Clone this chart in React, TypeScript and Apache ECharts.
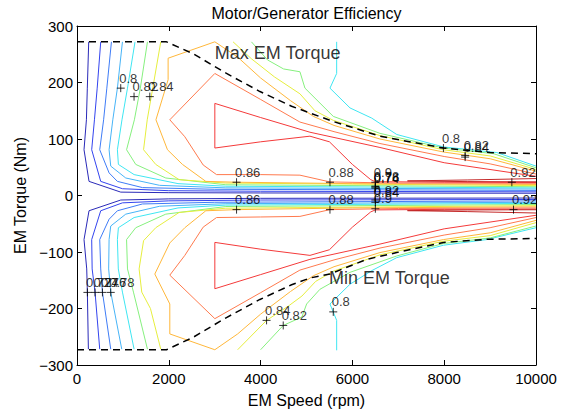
import React, { useEffect, useRef } from 'react';
import * as echarts from 'echarts';

// ---- axis ticks ----
const speedTicks = [0, 2000, 4000, 6000, 8000, 10000];
const torqueTicks = [-300, -200, -100, 0, 100, 200, 300];

// ---- contour levels ----
const levels = [0.72, 0.74, 0.76, 0.78, 0.8, 0.82, 0.84, 0.86, 0.88, 0.9, 0.92];

// ---- contour lines: [speed rpm, torque Nm] ----
const c72U = [[255, 272], [225, 190], [205, 134], [153, 81], [262, 25], [953, 6], [2000, 5], [4000, 4.5], [10000, 4]];
const c72L = [[248, -272], [226, -171], [212, -130], [153, -78], [262, -27], [953, -8], [2000, -6], [4000, -5], [10000, -4.5]];
const c74U = [[517, 272], [440, 190], [380, 134], [320, 81], [517, 25], [990, 12], [2000, 8.5], [4000, 7.5], [10000, 6.5]];
const c74L = [[495, -272], [393, -171], [330, -130], [320, -78], [517, -27], [990, -13], [2000, -9.5], [4000, -8], [10000, -7]];
const c76U = [[750, 272], [650, 190], [580, 134], [495, 81], [699, 40], [880, 25], [1425, 14], [3000, 11], [10000, 9]];
const c76L = [[735, -272], [554, -171], [517, -130], [495, -78], [699, -42], [880, -27], [1425, -15], [3000, -12], [10000, -9.5]];
const c78U = [[990, 272], [880, 190], [780, 134], [699, 81], [735, 52], [1062, 31], [1800, 18], [3243, 13.5], [10000, 11.5]];
const c78L = [[975, -272], [735, -171], [690, -130], [699, -78], [735, -54], [1062, -33], [1800, -19], [3243, -14.5], [10000, -12]];
const c80U = [[1264, 272], [1100, 190], [980, 134], [880, 81], [902, 55], [1244, 37], [2200, 21], [3243, 16.4], [10000, 13.5]];
const c80L = [[1244, -272], [990, -171], [900, -130], [880, -78], [902, -57], [1244, -39], [2200, -22], [3243, -17], [10000, -14]];
const c80UR = [[5657, 272], [5657, 216], [5511, 190], [5948, 155], [6421, 137], [6966, 108], [7983, 86], [9147, 76], [10000, 52]];
const c80LR = [[5657, -274], [5657, -221], [5511, -192], [5948, -157], [6421, -133], [6966, -110], [7983, -88], [8929, -78], [10000, -57]];
const c82U = [[1535, 272], [1380, 190], [1250, 134], [1080, 81], [1280, 55], [1934, 31], [3243, 19], [10000, 15.5]];
const c82L = [[1535, -272], [1230, -171], [1100, -130], [1080, -78], [1280, -57], [1934, -33], [3243, -19.5], [10000, -16]];
const c82UR = [[3800, 272], [4150, 240], [4500, 224], [4857, 219], [4966, 190], [5584, 140], [6601, 110], [7983, 84], [9076, 74], [10000, 49]];
const c82LR = [[4000, -273], [4493, -230], [4900, -215], [5003, -192], [5293, -166], [5948, -136], [6966, -107], [7983, -85], [9003, -75], [10000, -54]];
const c84U = [[1825, 272], [1650, 190], [1530, 134], [1450, 81], [1716, 55], [2225, 28], [3243, 22], [10000, 17.5]];
const c84L = [[1825, -272], [1600, -200], [1411, -171], [1353, -130], [1450, -80], [1716, -57], [2225, -30], [3243, -22.5], [10000, -18]];
const c84UR = [[3400, 272], [3800, 242], [4300, 210], [4857, 180], [5184, 150], [5584, 133], [6601, 106], [7983, 81], [9003, 70], [10000, 46]];
const c84LR = [[3500, -273], [4130, -221], [4600, -196], [4900, -178], [5200, -152], [5584, -134], [6601, -105], [7983, -81], [9003, -71], [10000, -48]];
const c86U = [[10000, 43], [9003, 65], [7983, 77], [6600, 100], [5600, 124], [5150, 140], [4650, 168], [4000, 208], [3500, 245], [3003, 272], [1985, 243], [1985, 205], [1720, 134], [1971, 81], [2298, 55], [2807, 25], [3476, 23.5], [6000, 21], [10000, 19.5]];
const c86L = [[10000, -44], [9003, -66], [7983, -78], [6600, -101], [5600, -126], [5150, -142], [4650, -170], [4000, -210], [3500, -245], [3003, -273], [2022, -245], [2022, -192], [1695, -139], [2022, -84], [2349, -57], [2807, -27], [3476, -25], [6000, -22], [10000, -20]];
const c88U = [[10000, 38], [9000, 56], [8000, 69], [6601, 92], [5600, 113], [4857, 130], [4000, 170], [3003, 216], [2022, 134], [2349, 104], [2749, 54], [3040, 37], [4000, 37], [4857, 36], [5511, 24], [7000, 22], [10000, 21.5]];
const c88L = [[10000, -39], [9000, -57], [8000, -70], [6601, -93], [5600, -114], [4857, -132], [4000, -172], [3003, -218], [2022, -141], [2349, -106], [2749, -56], [3040, -39], [4000, -38], [4857, -37], [5511, -25], [7000, -23], [10000, -22]];
const c90U = [[10000, 34], [8000, 58], [6600, 85], [5075, 112], [4000, 138], [3003, 163], [3003, 84], [4000, 95], [5075, 105], [5500, 95], [6000, 55], [6400, 28], [6500, 24.5], [8000, 23.5], [10000, 23]];
const c90L = [[10000, -35], [8000, -59], [6600, -86], [5075, -113], [4000, -140], [3003, -165], [3003, -83], [4000, -95], [5075, -106], [5500, -96], [6000, -56], [6400, -29], [6500, -25.5], [8000, -24.5], [10000, -24]];
const c92U = [[10000, 30], [8500, 27.5], [7200, 25.8], [8500, 24.6], [10000, 24.2]];
const c92L = [[10000, -31], [8500, -28.5], [7200, -26.8], [8500, -25.6], [10000, -25.2]];

// ---- torque envelopes ----
const maxTorque = [[0, 272], [1950, 272], [2530, 251], [3257, 216], [3985, 184], [4675, 158], [5075, 146], [5584, 131], [6601, 105], [7983, 84], [9000, 76], [10000, 74]];
const minTorque = [[0, -273], [1950, -273], [2530, -251], [3257, -216], [3985, -184], [4675, -158], [5075, -146], [5511, -139], [6311, -113], [6966, -101], [7983, -83], [8929, -77.5], [10000, -76]];

// ---- contour labels: [speed, torque, text] ----
const contourLabels = [
  [953, 190, '0.8'], [1243, 175, '0.82'], [1586, 175, '0.84'],
  [3476, 23.5, '0.86'], [5511, 23.5, '0.88'], [6500, 23.5, '0.9'],
  [6500, 16.5, '0.78'], [6500, 15, '0.76'], [6500, 13, '0.74'],
  [9474, 23.5, '0.92'],
  [7983, 84, '0.8'], [8456, 71, '0.82'], [8456, 68, '0.84'],
  [227, -171.5, '0.72'], [393, -171.5, '0.74'], [554, -171.5, '0.76'], [735, -171.5, '0.78'],
  [3476, -25, '0.86'], [5511, -25, '0.88'], [9510, -25, '0.92'],
  [6500, -8, '0.82'], [6500, -12, '0.84'], [6500, -23.5, '0.9'],
  [4130, -221, '0.84'], [4493, -230, '0.82'], [5583, -206, '0.8'],
];

// ---- annotations ----
const annotations = [[3003, 252, 'Max EM Torque'], [5490, -146, 'Min EM Torque']];

const levelColors = ['#2a2ab8', '#3344ee', '#3f7cf6', '#47b4f7', '#3fe6f2', '#86f07e', '#e6ee3e', '#ffb73a', '#ff7a4e', '#f43a3a', '#c42828'];

const contourSets = [
  { level: 0.72, lines: [c72U, c72L] },
  { level: 0.74, lines: [c74U, c74L] },
  { level: 0.76, lines: [c76U, c76L] },
  { level: 0.78, lines: [c78U, c78L] },
  { level: 0.8, lines: [c80U, c80L, c80UR, c80LR] },
  { level: 0.82, lines: [c82U, c82L, c82UR, c82LR] },
  { level: 0.84, lines: [c84U, c84L, c84UR, c84LR] },
  { level: 0.86, lines: [c86U, c86L] },
  { level: 0.88, lines: [c88U, c88L] },
  { level: 0.9, lines: [c90U, c90L] },
  { level: 0.92, lines: [c92U, c92L] },
];

const FONT = 'Liberation Sans, Helvetica, Arial, sans-serif';

export default function App() {
  const ref = useRef<HTMLDivElement>(null);
  useEffect(() => {
    const chart = echarts.init(ref.current!, null, { renderer: 'svg' });
    const series: any[] = [];
    contourSets.forEach((set) => {
      const color = levelColors[levels.indexOf(set.level)];
      set.lines.forEach((pts) => {
        series.push({
          type: 'line', data: pts, showSymbol: false, symbol: 'none', z: 2,
          lineStyle: { color, width: 1 }, silent: true,
        });
      });
    });
    [maxTorque, minTorque].forEach((pts) => {
      series.push({
        type: 'line', data: pts, showSymbol: false, symbol: 'none', z: 3,
        lineStyle: { color: '#000', width: 1.5, type: [7, 5] }, silent: true,
      });
    });
    series.push({
      type: 'scatter', z: 5, silent: true,
      data: contourLabels.map((d) => ({ value: [d[0], d[1]], name: d[2] })),
      symbol: 'path://M0,5L10,5M5,0L5,10', symbolSize: 8,
      itemStyle: { color: 'none', borderColor: '#000', borderWidth: 1 },
      label: {
        show: true, formatter: (p: any) => p.name, position: [5, 3],
        align: 'left', verticalAlign: 'bottom', fontSize: 13, color: '#000', fontFamily: FONT,
      },
    });
    series.push({
      type: 'scatter', z: 5, silent: true,
      data: annotations.map((d) => ({ value: [d[0], d[1]], name: d[2] })),
      symbol: 'circle', symbolSize: 0,
      label: {
        show: true, formatter: (p: any) => p.name, position: 'right', distance: 0,
        fontSize: 18, color: '#000', fontFamily: FONT,
      },
    });

    const axisCommon = {
      type: 'value',
      splitLine: { show: false },
      axisLine: { show: true, onZero: false, lineStyle: { color: '#000', width: 1 } },
      axisTick: { show: true, inside: true, length: 5, lineStyle: { color: '#000' } },
    };
    const fmt = (v: number) => (v < 0 ? '\u2212' + Math.abs(v) : String(v));

    chart.setOption({
      animation: false,
      backgroundColor: '#fff',
      grid: { left: 77, top: 26, width: 459, height: 340.5, containLabel: false },
      xAxis: [
        {
          ...axisCommon, position: 'bottom', min: speedTicks[0], max: speedTicks[speedTicks.length - 1], interval: 2000,
          axisLabel: { fontSize: 15, color: '#000', fontFamily: FONT, margin: 6, formatter: (v: number) => String(v) },
          name: 'EM Speed (rpm)', nameLocation: 'middle', nameGap: 27,
          nameTextStyle: { fontSize: 16, color: '#000', fontFamily: FONT },
        },
        {
          ...axisCommon, position: 'top', min: speedTicks[0], max: speedTicks[speedTicks.length - 1], interval: 2000,
          axisLabel: { show: false },
        },
      ],
      yAxis: [
        {
          ...axisCommon, position: 'left', min: torqueTicks[0], max: torqueTicks[torqueTicks.length - 1], interval: 100,
          axisLabel: { fontSize: 15, color: '#000', fontFamily: FONT, margin: 4, formatter: fmt },
          name: 'EM Torque (Nm)', nameLocation: 'middle', nameGap: 47, nameRotate: 90,
          nameTextStyle: { fontSize: 16, color: '#000', fontFamily: FONT },
        },
        {
          ...axisCommon, position: 'right', min: torqueTicks[0], max: torqueTicks[torqueTicks.length - 1], interval: 100,
          axisLabel: { show: false },
        },
      ],
      graphic: [
        {
          type: 'text', x: 306.5, y: 13.5,
          style: { text: 'Motor/Generator Efficiency', fontSize: 16, fill: '#000', fontFamily: FONT, align: 'center', verticalAlign: 'middle' },
        },
      ],
      series,
    });
    return () => chart.dispose();
  }, []);
  return <div ref={ref} style={{ position: 'fixed', left: 0, top: 0, width: 574, height: 413, background: '#fff' }} />;
}
